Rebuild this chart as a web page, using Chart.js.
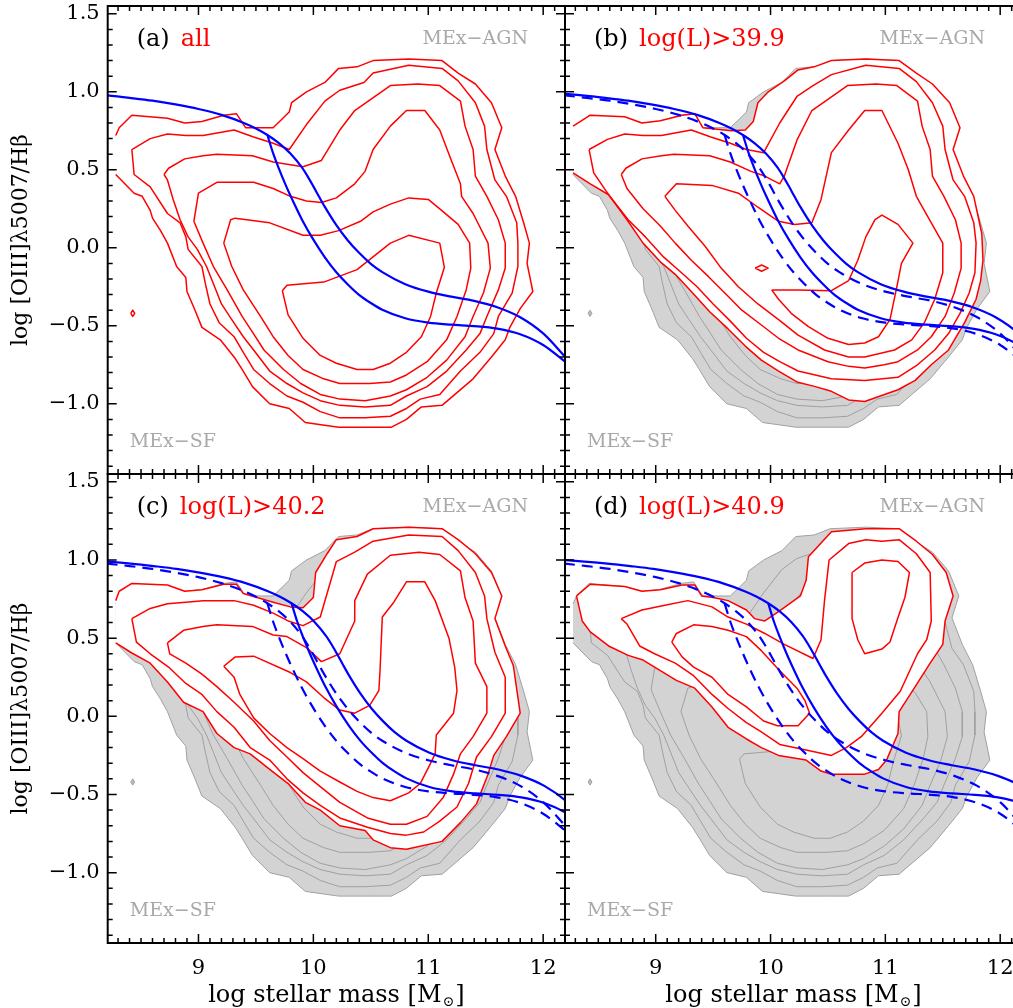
<!DOCTYPE html>
<html>
<head>
<meta charset="utf-8">
<title>MEx diagrams</title>
<script src="https://cdn.jsdelivr.net/npm/chart.js@4.4.1/dist/chart.umd.min.js"></script>
<style>
  html, body { margin: 0; padding: 0; background: #ffffff; overflow: hidden; }
  #wrap { position: relative; width: 1013px; height: 1008px; overflow: hidden; background: #fff; }
  #wrap canvas { position: absolute; }
</style>
</head>
<body>
<div id="wrap">
  <canvas id="pa" width="575" height="480" style="left:0px;top:0px;"></canvas>
  <canvas id="pb" width="480" height="480" style="left:555px;top:0px;"></canvas>
  <canvas id="pc" width="575" height="544" style="left:0px;top:464px;"></canvas>
  <canvas id="pd" width="480" height="544" style="left:555px;top:464px;"></canvas>
</div>
<script>
// ---------------- axis ticks ----------------
const xTickValues = [9, 10, 11, 12];
const xTickLabels = ['9', '10', '11', '12'];
const yTickValues = [-1.0, -0.5, 0.0, 0.5, 1.0, 1.5];
const yTickLabels = ['\u22121.0', '\u22120.5', '0.0', '0.5', '1.0', '1.5'];
const xRange = [8.21, 12.19];
const yRange = [-1.45, 1.55];

const panelLetters = ['(a)', '(b)', '(c)', '(d)'];
const panelSubsets = ['all', 'log(L)>39.9', 'log(L)>40.2', 'log(L)>40.9'];

// ---------------- MEx demarcation curves ----------------
const mexUpperX  = [7.8,8.0,8.2,8.4,8.6,8.8,9.0,9.2,9.4,9.5,9.6,9.7,9.8,9.9,9.95,10.0,10.05,10.1,10.2,10.3,10.4,10.5,10.6,10.8,11.0,11.2,11.4,11.6,11.8,12.0,12.2];
const mexUpperY  = [1.001,0.990,0.977,0.961,0.943,0.919,0.890,0.852,0.799,0.765,0.723,0.671,0.604,0.515,0.458,0.394,0.327,0.262,0.145,0.047,-0.034,-0.103,-0.156,-0.233,-0.281,-0.313,-0.340,-0.381,-0.445,-0.549,-0.706];
const mexLowerX  = [9.6,9.65,9.7,9.75,9.8,9.9,10.0,10.1,10.2,10.3,10.4,10.5,10.6,10.8,11.0,11.2,11.4,11.6,11.8,12.0,12.2];
const mexLowerY  = [0.723,0.605,0.508,0.418,0.335,0.182,0.052,-0.061,-0.157,-0.235,-0.303,-0.354,-0.397,-0.452,-0.480,-0.493,-0.502,-0.518,-0.554,-0.623,-0.735];
// mass-shifted versions drawn solid in panels b, c, d
const mexUpperXb = [7.96,8.16,8.36,8.56,8.76,8.96,9.16,9.36,9.56,9.66,9.76,9.86,9.96,10.06,10.11,10.16,10.21,10.26,10.36,10.46,10.56,10.66,10.76,10.96,11.16,11.36,11.56,11.76,11.96,12.16,12.36];
const mexLowerXb = [9.76,9.81,9.86,9.91,9.96,10.06,10.16,10.26,10.36,10.46,10.56,10.66,10.76,10.96,11.16,11.36,11.56,11.76,11.96,12.16,12.36];
const mexUpperXc = [8.01,8.21,8.41,8.61,8.81,9.01,9.21,9.41,9.61,9.71,9.81,9.91,10.01,10.11,10.16,10.21,10.26,10.31,10.41,10.51,10.61,10.71,10.81,11.01,11.21,11.41,11.61,11.81,12.01,12.21,12.41];
const mexLowerXc = [9.81,9.86,9.91,9.96,10.01,10.11,10.21,10.31,10.41,10.51,10.61,10.71,10.81,11.01,11.21,11.41,11.61,11.81,12.01,12.21,12.41];
const mexUpperXd = [8.18,8.38,8.58,8.78,8.98,9.18,9.38,9.58,9.78,9.88,9.98,10.08,10.18,10.28,10.33,10.38,10.43,10.48,10.58,10.68,10.78,10.88,10.98,11.18,11.38,11.58,11.78,11.98,12.18,12.38,12.58];
const mexLowerXd = [9.98,10.03,10.08,10.13,10.18,10.28,10.38,10.48,10.58,10.68,10.78,10.88,10.98,11.18,11.38,11.58,11.78,11.98,12.18,12.38,12.58];

// ---------------- (a) all: contours ----------------
const allC1 = [[8.28,0.72],[8.31,0.77],[8.42,0.85],[8.73,0.83],[8.88,0.80],[9.03,0.81],[9.22,0.85],[9.33,0.86],[9.41,0.77],[9.65,0.77],[9.79,0.87],[9.81,0.93],[9.94,1.00],[10.10,1.06],[10.22,1.15],[10.38,1.16],[10.52,1.20],[10.83,1.21],[11.12,1.20],[11.26,1.12],[11.41,1.05],[11.55,0.93],[11.64,0.77],[11.58,0.63],[11.67,0.46],[11.76,0.33],[11.83,0.16],[11.88,0.03],[11.86,-0.10],[11.91,-0.28],[11.80,-0.39],[11.71,-0.51],[11.67,-0.59],[11.55,-0.70],[11.39,-0.84],[11.12,-1.01],[10.94,-1.02],[10.81,-1.10],[10.68,-1.15],[10.52,-1.15],[10.22,-1.15],[9.93,-1.12],[9.79,-1.03],[9.62,-1.00],[9.47,-0.89],[9.38,-0.78],[9.32,-0.71],[9.19,-0.59],[9.03,-0.51],[8.97,-0.40],[8.90,-0.28],[8.89,-0.19],[8.81,-0.12],[8.73,0.03],[8.67,0.11],[8.60,0.19],[8.58,0.24],[8.51,0.33],[8.44,0.35],[8.28,0.47]];
const allC2 = [[8.42,0.63],[8.58,0.70],[8.73,0.73],[8.89,0.72],[9.04,0.72],[9.31,0.755],[9.48,0.71],[9.65,0.67],[9.79,0.63],[9.94,0.79],[10.10,0.94],[10.23,1.01],[10.44,1.06],[10.52,1.12],[10.83,1.17],[11.12,1.15],[11.26,1.07],[11.41,0.93],[11.49,0.78],[11.51,0.63],[11.58,0.435],[11.68,0.33],[11.77,0.16],[11.78,0.03],[11.78,-0.12],[11.73,-0.29],[11.61,-0.44],[11.57,-0.55],[11.45,-0.67],[11.28,-0.79],[11.10,-0.94],[10.93,-0.97],[10.81,-1.03],[10.67,-1.08],[10.45,-1.09],[10.23,-1.09],[10.06,-1.05],[9.91,-0.99],[9.77,-0.95],[9.62,-0.87],[9.48,-0.78],[9.39,-0.67],[9.31,-0.57],[9.18,-0.48],[9.10,-0.36],[9.06,-0.23],[9.03,-0.12],[8.91,-0.01],[8.89,0.07],[8.84,0.16],[8.73,0.22],[8.58,0.39],[8.44,0.47]];
const allC3 = [[8.70,0.47],[8.74,0.51],[8.88,0.57],[9.04,0.59],[9.16,0.60],[9.47,0.59],[9.65,0.55],[9.91,0.52],[10.07,0.56],[10.23,0.755],[10.36,0.88],[10.67,1.04],[10.91,1.05],[11.10,1.04],[11.28,0.94],[11.32,0.78],[11.39,0.63],[11.41,0.46],[11.51,0.33],[11.61,0.18],[11.67,0.03],[11.67,-0.13],[11.61,-0.27],[11.51,-0.44],[11.45,-0.55],[11.33,-0.655],[11.16,-0.79],[10.99,-0.89],[10.81,-0.95],[10.67,-1.01],[10.45,-1.02],[10.23,-1.01],[10.06,-0.98],[9.91,-0.93],[9.77,-0.87],[9.62,-0.79],[9.48,-0.655],[9.39,-0.57],[9.29,-0.46],[9.20,-0.36],[9.13,-0.23],[9.07,-0.12],[8.99,-0.01],[8.91,0.07],[8.84,0.18],[8.78,0.31],[8.73,0.435]];
const allC4 = [[8.96,0.17],[9.00,0.35],[9.16,0.42],[9.48,0.42],[9.65,0.38],[9.80,0.33],[9.94,0.30],[10.07,0.29],[10.20,0.32],[10.36,0.41],[10.45,0.49],[10.52,0.63],[10.67,0.78],[10.81,0.88],[10.97,0.88],[11.10,0.755],[11.19,0.58],[11.28,0.41],[11.29,0.33],[11.39,0.22],[11.52,0.03],[11.54,-0.13],[11.48,-0.29],[11.39,-0.44],[11.32,-0.57],[11.16,-0.72],[10.99,-0.83],[10.81,-0.91],[10.67,-0.95],[10.45,-0.98],[10.23,-0.97],[10.06,-0.94],[9.89,-0.87],[9.74,-0.78],[9.57,-0.655],[9.47,-0.54],[9.38,-0.44],[9.25,-0.27],[9.13,-0.12],[9.04,0.03]];
const allC5 = [[9.22,0.03],[9.28,0.18],[9.32,0.19],[9.62,0.16],[9.91,0.08],[10.06,0.08],[10.22,0.11],[10.41,0.17],[10.52,0.23],[10.67,0.28],[10.83,0.32],[11.00,0.31],[11.10,0.25],[11.26,0.15],[11.36,0.03],[11.37,-0.13],[11.33,-0.27],[11.25,-0.44],[11.16,-0.59],[10.99,-0.73],[10.81,-0.815],[10.67,-0.86],[10.49,-0.87],[10.23,-0.87],[10.09,-0.84],[9.91,-0.78],[9.78,-0.69],[9.65,-0.57],[9.54,-0.44],[9.39,-0.27],[9.29,-0.12]];
const allC6 = [[9.73,-0.275],[9.77,-0.24],[10.09,-0.22],[10.38,-0.14],[10.67,0.03],[10.83,0.08],[11.10,0.03],[11.14,-0.125],[11.07,-0.29],[11.02,-0.44],[10.94,-0.57],[10.81,-0.67],[10.67,-0.74],[10.52,-0.78],[10.38,-0.78],[10.20,-0.74],[10.06,-0.69],[9.91,-0.58],[9.78,-0.43]];
const allDiamond = [[8.411,-0.42],[8.428,-0.40],[8.445,-0.42],[8.428,-0.44]];

// ---------------- (b) log(L)>39.9 ----------------
const bC1 = [[8.28,0.78],[8.43,0.85],[8.73,0.84],[8.88,0.80],[9.04,0.815],[9.23,0.85],[9.34,0.86],[9.41,0.77],[9.66,0.75],[9.78,0.755],[9.85,0.81],[9.89,0.93],[9.98,1.00],[10.12,1.07],[10.24,1.14],[10.38,1.16],[10.53,1.20],[10.83,1.21],[11.12,1.20],[11.27,1.12],[11.41,1.05],[11.56,0.93],[11.65,0.77],[11.59,0.63],[11.68,0.46],[11.77,0.33],[11.84,0.09],[11.85,-0.08],[11.83,-0.21],[11.79,-0.33],[11.69,-0.48],[11.55,-0.655],[11.40,-0.75],[11.26,-0.85],[11.11,-0.91],[10.82,-0.985],[10.68,-0.975],[10.53,-0.92],[10.39,-0.89],[10.23,-0.86],[10.07,-0.79],[9.92,-0.72],[9.78,-0.63],[9.63,-0.52],[9.47,-0.41],[9.31,-0.28],[9.17,-0.17],[9.04,-0.09],[8.89,0.03],[8.75,0.18],[8.59,0.34],[8.43,0.41],[8.28,0.48]];
const bC2 = [[8.42,0.63],[8.58,0.695],[8.73,0.73],[8.89,0.72],[9.05,0.72],[9.31,0.755],[9.48,0.71],[9.65,0.67],[9.79,0.63],[9.94,0.61],[10.08,0.80],[10.23,0.97],[10.37,1.04],[10.53,1.11],[10.83,1.17],[11.12,1.15],[11.27,1.065],[11.41,0.93],[11.50,0.78],[11.52,0.63],[11.59,0.435],[11.69,0.33],[11.77,0.16],[11.79,0.03],[11.78,-0.16],[11.73,-0.29],[11.65,-0.42],[11.55,-0.55],[11.43,-0.655],[11.28,-0.75],[11.11,-0.83],[10.82,-0.85],[10.53,-0.84],[10.24,-0.79],[10.08,-0.73],[9.94,-0.67],[9.79,-0.58],[9.65,-0.47],[9.50,-0.36],[9.36,-0.25],[9.21,-0.15],[9.07,-0.06],[8.91,0.07],[8.76,0.18],[8.60,0.33],[8.46,0.48]];
const bC3 = [[8.70,0.47],[8.74,0.51],[8.88,0.57],[9.05,0.59],[9.16,0.60],[9.47,0.59],[9.65,0.55],[9.83,0.49],[9.95,0.46],[10.08,0.41],[10.12,0.46],[10.23,0.69],[10.36,0.88],[10.67,1.04],[10.92,1.05],[11.10,1.04],[11.28,0.94],[11.32,0.78],[11.39,0.63],[11.41,0.46],[11.51,0.33],[11.61,0.18],[11.66,0.03],[11.66,-0.13],[11.60,-0.29],[11.52,-0.44],[11.40,-0.57],[11.28,-0.655],[11.11,-0.73],[10.99,-0.75],[10.82,-0.77],[10.68,-0.76],[10.50,-0.73],[10.24,-0.655],[10.07,-0.58],[9.92,-0.495],[9.75,-0.40],[9.63,-0.31],[9.46,-0.185],[9.31,-0.08],[9.17,0.03],[9.04,0.14],[8.89,0.25],[8.75,0.38]];
const bC4 = [[9.08,0.33],[9.18,0.41],[9.49,0.40],[9.72,0.35],[9.89,0.26],[10.07,0.17],[10.21,0.15],[10.36,0.16],[10.44,0.31],[10.53,0.61],[10.68,0.755],[10.82,0.88],[10.97,0.88],[11.11,0.67],[11.20,0.50],[11.27,0.33],[11.40,0.16],[11.50,0.03],[11.50,-0.16],[11.43,-0.33],[11.34,-0.48],[11.23,-0.59],[11.08,-0.655],[10.82,-0.70],[10.68,-0.70],[10.47,-0.655],[10.24,-0.56],[10.07,-0.46],[9.89,-0.36],[9.72,-0.25],[9.57,-0.13],[9.43,0.01],[9.28,0.14],[9.17,0.24]];
const bC5 = [[10.01,-0.27],[10.24,-0.27],[10.53,-0.275],[10.68,-0.21],[10.76,-0.08],[10.83,0.07],[10.91,0.18],[10.97,0.21],[11.11,0.15],[11.24,0.03],[11.14,-0.10],[11.10,-0.25],[11.04,-0.46],[10.94,-0.57],[10.82,-0.61],[10.68,-0.62],[10.50,-0.58],[10.33,-0.505],[10.18,-0.42],[10.07,-0.33]];
const bDiamond = [[9.865,-0.13],[9.922,-0.11],[9.979,-0.13],[9.922,-0.15]];

// ---------------- (c) log(L)>40.2 ----------------
const cC1 = [[8.28,0.74],[8.31,0.80],[8.42,0.85],[8.73,0.84],[8.88,0.80],[9.03,0.81],[9.22,0.845],[9.33,0.845],[9.39,0.785],[9.51,0.76],[9.65,0.73],[9.80,0.70],[9.91,0.695],[10.00,0.76],[10.02,0.92],[10.12,1.04],[10.20,1.13],[10.38,1.15],[10.52,1.20],[10.83,1.21],[11.12,1.20],[11.26,1.13],[11.41,1.04],[11.55,0.92],[11.64,0.77],[11.58,0.625],[11.67,0.45],[11.74,0.325],[11.80,0.02],[11.68,-0.13],[11.57,-0.25],[11.52,-0.37],[11.42,-0.56],[11.28,-0.68],[11.12,-0.80],[10.81,-0.85],[10.67,-0.84],[10.52,-0.79],[10.45,-0.73],[10.23,-0.70],[10.06,-0.60],[9.93,-0.55],[9.78,-0.43],[9.62,-0.34],[9.45,-0.24],[9.31,-0.20],[9.16,-0.11],[9.04,0.03],[8.87,0.09],[8.73,0.22],[8.58,0.34],[8.42,0.405],[8.28,0.47]];
const cC2 = [[8.42,0.625],[8.58,0.69],[8.73,0.72],[8.89,0.73],[9.04,0.74],[9.31,0.74],[9.48,0.71],[9.65,0.66],[9.78,0.61],[9.91,0.58],[10.06,0.635],[10.20,0.99],[10.36,1.05],[10.52,1.12],[10.83,1.16],[11.12,1.15],[11.26,1.06],[11.41,0.92],[11.49,0.77],[11.51,0.625],[11.58,0.41],[11.67,0.25],[11.67,0.02],[11.55,-0.13],[11.42,-0.26],[11.35,-0.43],[11.25,-0.58],[11.10,-0.67],[10.96,-0.74],[10.81,-0.76],[10.67,-0.75],[10.47,-0.71],[10.23,-0.65],[10.06,-0.57],[9.91,-0.49],[9.77,-0.40],[9.62,-0.28],[9.45,-0.20],[9.31,-0.07],[9.16,0.03],[9.03,0.14],[8.89,0.21],[8.74,0.315],[8.58,0.40],[8.46,0.475]];
const cC3 = [[8.73,0.47],[8.87,0.55],[9.04,0.575],[9.16,0.585],[9.47,0.575],[9.65,0.52],[9.77,0.51],[9.94,0.44],[10.07,0.35],[10.23,0.40],[10.36,0.61],[10.36,0.74],[10.47,0.91],[10.67,1.03],[10.92,1.05],[11.10,1.035],[11.28,0.93],[11.32,0.76],[11.39,0.61],[11.41,0.34],[11.51,0.19],[11.51,0.02],[11.39,-0.13],[11.28,-0.24],[11.22,-0.37],[11.13,-0.52],[10.99,-0.64],[10.81,-0.69],[10.67,-0.69],[10.47,-0.65],[10.23,-0.55],[10.06,-0.45],[9.91,-0.36],[9.77,-0.26],[9.62,-0.155],[9.48,-0.03],[9.31,0.09],[9.16,0.19],[9.03,0.27],[8.89,0.34],[8.75,0.40]];
const cC4 = [[9.22,0.32],[9.32,0.38],[9.48,0.385],[9.80,0.28],[9.94,0.22],[10.09,0.12],[10.23,0.04],[10.36,0.02],[10.49,0.07],[10.57,0.165],[10.58,0.29],[10.60,0.635],[10.70,0.73],[10.81,0.86],[10.97,0.86],[11.06,0.74],[11.18,0.50],[11.23,0.315],[11.25,0.165],[11.22,0.02],[11.07,-0.12],[11.06,-0.24],[11.00,-0.33],[10.93,-0.43],[10.83,-0.49],[10.67,-0.54],[10.52,-0.52],[10.38,-0.48],[10.23,-0.42],[10.06,-0.35],[9.91,-0.27],[9.77,-0.20],[9.62,-0.11],[9.48,-0.01],[9.36,0.14],[9.31,0.25]];

// ---------------- (d) log(L)>40.9 ----------------
const dC1 = [[8.31,0.77],[8.43,0.845],[8.73,0.83],[8.88,0.80],[9.04,0.81],[9.23,0.84],[9.34,0.84],[9.40,0.77],[9.50,0.76],[9.63,0.74],[9.79,0.68],[9.86,0.625],[9.95,0.61],[10.07,0.67],[10.26,0.77],[10.31,0.87],[10.33,1.02],[10.53,1.18],[10.83,1.20],[11.12,1.20],[11.27,1.12],[11.41,1.035],[11.53,0.92],[11.59,0.77],[11.52,0.61],[11.50,0.46],[11.39,0.34],[11.26,0.19],[11.12,0.03],[11.11,-0.11],[11.01,-0.28],[10.94,-0.34],[10.82,-0.37],[10.68,-0.37],[10.53,-0.37],[10.44,-0.35],[10.31,-0.28],[10.07,-0.25],[9.92,-0.20],[9.79,-0.145],[9.63,-0.07],[9.49,0.06],[9.34,0.18],[9.18,0.23],[8.89,0.36],[8.76,0.39],[8.59,0.45],[8.43,0.54],[8.36,0.61]];
const dC2 = [[8.70,0.625],[8.88,0.68],[9.08,0.71],[9.28,0.74],[9.49,0.70],[9.63,0.635],[9.79,0.59],[9.95,0.53],[10.12,0.46],[10.37,0.37],[10.44,0.49],[10.47,0.74],[10.51,1.00],[10.68,1.105],[10.83,1.13],[10.97,1.12],[11.12,1.13],[11.27,1.04],[11.39,0.92],[11.40,0.61],[11.36,0.49],[11.28,0.40],[11.13,0.16],[10.97,0.02],[10.79,-0.13],[10.66,-0.20],[10.53,-0.25],[10.34,-0.22],[10.08,-0.18],[9.92,-0.10],[9.79,-0.04],[9.63,0.05],[9.49,0.14],[9.33,0.26],[9.17,0.34],[8.99,0.40],[8.86,0.45],[8.75,0.59]];
const dC3 = [[9.14,0.475],[9.18,0.53],[9.33,0.585],[9.49,0.575],[9.63,0.55],[9.79,0.51],[9.92,0.42],[10.07,0.30],[10.23,0.18],[10.30,0.10],[10.34,0.02],[10.24,-0.06],[10.06,-0.06],[9.94,-0.03],[9.79,0.06],[9.63,0.14],[9.49,0.25],[9.33,0.315],[9.23,0.38]];
const dC4 = [[10.71,0.92],[10.82,0.98],[10.97,1.00],[11.11,0.99],[11.21,0.92],[11.17,0.76],[11.10,0.61],[11.04,0.475],[10.97,0.43],[10.82,0.40],[10.76,0.49],[10.71,0.625]];

// ---------------- styling ----------------
const RED = '#ff0000';
const BLUE = '#0000ff';
const GREY_FILL = '#d3d3d3';
const GREY_LINE = '#a0a0a0';
const SERIF = '"DejaVu Serif", "Liberation Serif", serif';

function toXY(arr) { return arr.map(p => ({ x: p[0], y: p[1] })); }
function ring(arr) { return toXY(arr.concat([arr[0]])); }
function curve(xs, ys) { return xs.map((x, i) => ({ x: x, y: ys[i] })); }
function strokeLayer(data, color, width, extra) {
  return Object.assign({
    data: data, borderColor: color, borderWidth: width, pointRadius: 0, pointHoverRadius: 0,
    fill: false, tension: 0, borderJoinStyle: 'round', borderCapStyle: 'butt'
  }, extra || {});
}
function fillLayer(data, color) {
  return { data: data, borderColor: 'rgba(0,0,0,0)', borderWidth: 0, backgroundColor: color,
           pointRadius: 0, pointHoverRadius: 0, fill: 'shape', tension: 0 };
}
function mexLayer(xs, ys, dashed) {
  return strokeLayer(curve(xs, ys), BLUE, 2.2, { cubicInterpolationMode: 'monotone', borderDash: dashed ? [11, 7] : [] });
}
function greyBackground() {
  return [
    fillLayer(ring(allC1), GREY_FILL),
    strokeLayer(toXY(allC1), GREY_LINE, 1),
    strokeLayer(ring(allC2), GREY_LINE, 1),
    strokeLayer(ring(allC3), GREY_LINE, 1),
    strokeLayer(ring(allC4), GREY_LINE, 1),
    strokeLayer(ring(allC5), GREY_LINE, 1),
    strokeLayer(ring(allC6), GREY_LINE, 1),
    strokeLayer(ring(allDiamond), GREY_LINE, 1, { fill: 'shape', backgroundColor: '#bdbdbd' })
  ];
}

// ---------------- plugins ----------------
const frameTicks = {
  id: 'frameTicks',
  afterDatasetsDraw(chart) {
    const ctx = chart.ctx, a = chart.chartArea, xs = chart.scales.x, ys = chart.scales.y;
    ctx.save();
    ctx.strokeStyle = '#000';
    ctx.lineWidth = 1.5;
    ctx.beginPath();
    for (let k = 83; k <= 121; k++) {
      const px = xs.getPixelForValue(k / 10);
      const len = (k % 10 === 0) ? 9 : 5;
      ctx.moveTo(px, a.bottom); ctx.lineTo(px, a.bottom - len);
      ctx.moveTo(px, a.top); ctx.lineTo(px, a.top + len);
    }
    for (let k = -14; k <= 15; k++) {
      const py = ys.getPixelForValue(k / 10);
      const len = (k % 5 === 0) ? 9 : 5;
      ctx.moveTo(a.left, py); ctx.lineTo(a.left + len, py);
      ctx.moveTo(a.right, py); ctx.lineTo(a.right - len, py);
    }
    ctx.stroke();
    ctx.lineWidth = 2;
    ctx.strokeRect(a.left, a.top, a.right - a.left, a.bottom - a.top);
    ctx.restore();
  }
};

const panelText = {
  id: 'panelText',
  afterDraw(chart, args, opts) {
    const ctx = chart.ctx, a = chart.chartArea;
    ctx.save();
    ctx.textBaseline = 'alphabetic';
    ctx.textAlign = 'left';
    ctx.font = '24px ' + SERIF;
    ctx.fillStyle = '#000';
    const lx = a.left + 29, ly = a.top + 40;
    ctx.fillText(opts.letter, lx, ly);
    const w = ctx.measureText(opts.letter).width + 11;
    ctx.fillStyle = RED;
    ctx.fillText(opts.subset, lx + w, ly);

    ctx.font = '19px ' + SERIF;
    ctx.fillStyle = '#a9a9a9';
    ctx.textAlign = 'right';
    ctx.fillText('MEx\u2212AGN', a.right - 37, a.top + 38);
    ctx.textAlign = 'left';
    ctx.fillText('MEx\u2212SF', a.left + 22, a.bottom - 27);

    if (opts.xTitle) {
      const main = 'log stellar mass [M', sub = '\u2299', end = ']';
      const mainFont = '24px ' + SERIF, subFont = '14px ' + SERIF;
      ctx.fillStyle = '#000';
      ctx.font = mainFont;
      const w1 = ctx.measureText(main).width, w3 = ctx.measureText(end).width;
      ctx.font = subFont;
      const w2 = ctx.measureText(sub).width + 2;
      const cx = (a.left + a.right) / 2;
      const sx = cx - (w1 + w2 + w3) / 2;
      const base = a.bottom + 59;
      ctx.font = mainFont; ctx.fillText(main, sx, base);
      ctx.font = subFont; ctx.fillText(sub, sx + w1 + 1, base + 4);
      ctx.font = mainFont; ctx.fillText(end, sx + w1 + w2, base);
    }
    ctx.restore();
  }
};

// ---------------- chart factory ----------------
function makePanel(id, idx, layers, showX, showY, padding) {
  const datasets = layers.map((d, i, arr) => Object.assign({ order: arr.length - i }, d));
  return new Chart(document.getElementById(id), {
    type: 'line',
    data: { datasets: datasets },
    options: {
      responsive: false,
      maintainAspectRatio: false,
      animation: false,
      events: [],
      layout: { padding: padding },
      plugins: {
        legend: { display: false },
        tooltip: { enabled: false },
        panelText: { letter: panelLetters[idx], subset: panelSubsets[idx], xTitle: showX }
      },
      scales: {
        x: {
          type: 'linear', min: xRange[0], max: xRange[1], display: showX,
          grid: { display: false, drawTicks: false }, border: { display: false },
          afterBuildTicks: s => { s.ticks = xTickValues.map(v => ({ value: v })); },
          afterFit: s => { if (showX) s.height = 65; s.paddingLeft = 0; s.paddingRight = 0; },
          ticks: { color: '#000', font: { family: SERIF, size: 21 }, padding: 13, maxRotation: 0, autoSkip: false,
                   callback: (v, i) => xTickLabels[i] }
        },
        y: {
          type: 'linear', min: yRange[0], max: yRange[1], display: showY,
          grid: { display: false, drawTicks: false }, border: { display: false },
          afterBuildTicks: s => { s.ticks = yTickValues.map(v => ({ value: v })); },
          afterFit: s => { if (showY) s.width = 107.7; s.paddingTop = 0; s.paddingBottom = 0; },
          ticks: { color: '#000', font: { family: SERIF, size: 21 }, padding: 8, autoSkip: false,
                   callback: (v, i) => yTickLabels[i] },
          title: { display: showY, text: 'log [OIII]\u03bb5007/H\u03b2', color: '#000',
                   font: { family: SERIF, size: 22, lineHeight: 1 }, padding: { top: 10, bottom: 0 } }
        }
      }
    },
    plugins: [frameTicks, panelText]
  });
}

// (a)
makePanel('pa', 0, [
  strokeLayer(toXY(allC1), RED, 1.5),
  strokeLayer(ring(allC2), RED, 1.5),
  strokeLayer(ring(allC3), RED, 1.5),
  strokeLayer(ring(allC4), RED, 1.5),
  strokeLayer(ring(allC5), RED, 1.5),
  strokeLayer(ring(allC6), RED, 1.5),
  strokeLayer(ring(allDiamond), RED, 1.5),
  mexLayer(mexUpperX, mexUpperY, false),
  mexLayer(mexLowerX, mexLowerY, false)
], false, true, { left: 0, top: 6, right: 10, bottom: 6 });

// (b)
makePanel('pb', 1, greyBackground().concat([
  fillLayer(ring(bC1), '#ffffff'),
  strokeLayer(toXY(bC1), RED, 1.5),
  strokeLayer(ring(bC2), RED, 1.5),
  strokeLayer(ring(bC3), RED, 1.5),
  strokeLayer(ring(bC4), RED, 1.5),
  strokeLayer(ring(bC5), RED, 1.5),
  strokeLayer(ring(bDiamond), RED, 1.5),
  mexLayer(mexUpperX, mexUpperY, true),
  mexLayer(mexLowerX, mexLowerY, true),
  mexLayer(mexUpperXb, mexUpperY, false),
  mexLayer(mexLowerXb, mexLowerY, false)
]), false, false, { left: 10, top: 6, right: 13, bottom: 6 });

// (c)
makePanel('pc', 2, greyBackground().concat([
  fillLayer(ring(cC1), '#ffffff'),
  strokeLayer(toXY(cC1), RED, 1.5),
  strokeLayer(ring(cC2), RED, 1.5),
  strokeLayer(ring(cC3), RED, 1.5),
  strokeLayer(ring(cC4), RED, 1.5),
  mexLayer(mexUpperX, mexUpperY, true),
  mexLayer(mexLowerX, mexLowerY, true),
  mexLayer(mexUpperXc, mexUpperY, false),
  mexLayer(mexLowerXc, mexLowerY, false)
]), true, true, { left: 0, top: 10, right: 10, bottom: 0 });

// (d)
makePanel('pd', 3, greyBackground().concat([
  fillLayer(ring(dC1), '#ffffff'),
  strokeLayer(ring(dC1), RED, 1.5),
  strokeLayer(ring(dC2), RED, 1.5),
  strokeLayer(ring(dC3), RED, 1.5),
  strokeLayer(ring(dC4), RED, 1.5),
  mexLayer(mexUpperX, mexUpperY, true),
  mexLayer(mexLowerX, mexLowerY, true),
  mexLayer(mexUpperXd, mexUpperY, false),
  mexLayer(mexLowerXd, mexLowerY, false)
]), true, false, { left: 10, top: 10, right: 13, bottom: 0 });
</script>
</body>
</html>
